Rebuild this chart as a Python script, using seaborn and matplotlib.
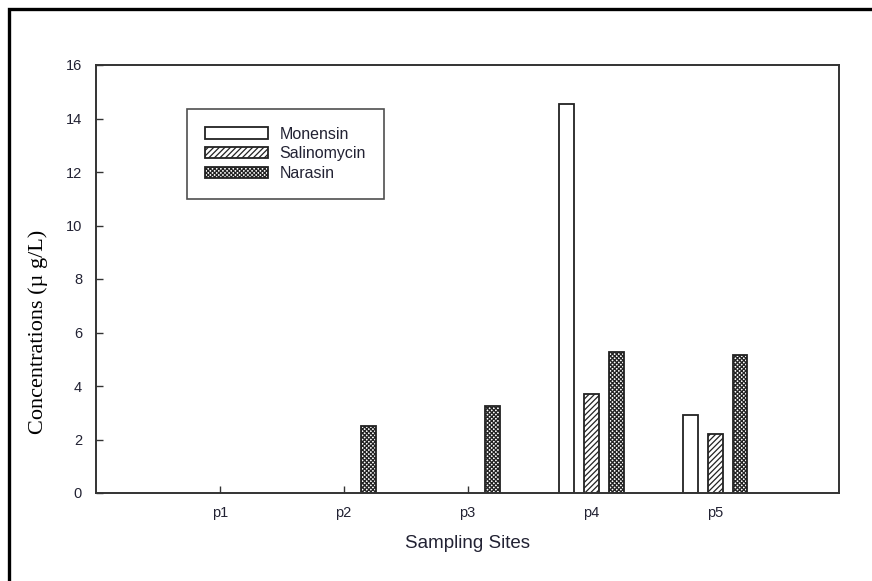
import numpy as np
import pandas as pd
import matplotlib
matplotlib.use("Agg")
import matplotlib.pyplot as plt
from matplotlib.patches import Rectangle, Patch
import seaborn as sns

# Concentrations (µg/L) per sampling site
sites = ["p1", "p2", "p3", "p4", "p5"]
compounds = ["Monensin", "Salinomycin", "Narasin"]
monensin = [0.0, 0.0, 0.0, 14.55, 2.92]
salinomycin = [0.0, 0.0, 0.0, 3.70, 2.22]
narasin = [0.0, 2.50, 3.26, 5.28, 5.16]
yticks = [0, 2, 4, 6, 8, 10, 12, 14, 16]

df = pd.DataFrame({
    "site": sites * 3,
    "compound": [c for c in compounds for _ in sites],
    "value": monensin + salinomycin + narasin,
})

sns.set_theme(style="white")
plt.rcParams["font.family"] = ["Liberation Sans", "DejaVu Sans"]
plt.rcParams["hatch.linewidth"] = 0.9

fig = plt.figure(figsize=(8.72, 5.81), dpi=100)
ax = fig.add_axes([96 / 872, 1 - 493 / 581, 743 / 872, 428 / 581])

sns.barplot(data=df, x="site", y="value", hue="compound", order=sites,
            hue_order=compounds, palette=["white"] * 3, width=0.6, gap=0.4,
            edgecolor="#222222", linewidth=1.3, legend=False, ax=ax,
            saturation=1)

hatches = ["", "//////", "xxxxxxxx"]
for cont, h in zip(ax.containers, hatches):
    for bar in cont:
        bar.set_hatch(h)
        if bar.get_height() == 0:
            bar.set_visible(False)

ax.set_xlim(-1, 5)
ax.set_ylim(0, 16)
ax.set_yticks(yticks)
ax.set_yticklabels([str(t) for t in yticks])
ax.tick_params(axis="both", direction="in", length=5, width=1,
               color="#333333", labelsize=10.5, labelcolor="#222233")
ax.tick_params(axis="y", pad=10, left=True)
ax.tick_params(axis="x", pad=9, bottom=True)

for sp in ax.spines.values():
    sp.set_visible(True)
    sp.set_color("#333333")
    sp.set_linewidth(1.4)

ax.set_xlabel("Sampling Sites", fontsize=13.5, color="#222233", labelpad=11)
ax.set_ylabel("Concentrations (\u00b5 g/L)", fontsize=16,
              family=["Liberation Serif", "DejaVu Serif"], color="black")
ax.yaxis.set_label_coords(-0.078, 0.376)
ax.yaxis.label.set_verticalalignment("center")

handles = [Patch(facecolor="white", edgecolor="#222222", linewidth=1.3,
                 hatch=h) for h in hatches]
leg = ax.legend(handles, compounds, loc="upper left",
                bbox_to_anchor=(0.1225, 0.897), borderaxespad=0,
                fontsize=11.5, frameon=True, fancybox=False, shadow=False,
                edgecolor="#222222", handlelength=4.0, handleheight=0.7,
                labelspacing=0.3, borderpad=1.1, handletextpad=0.7)
leg.get_frame().set_linewidth(1.2)
for t in leg.get_texts():
    t.set_color("#222233")

# outer frame around the figure
fig.patches.append(Rectangle((9 / 872, -0.1), 1.2, 1 - 9 / 581 + 0.1,
                             transform=fig.transFigure, fill=False,
                             lw=2.4, ec="black", zorder=10))

fig.savefig("out.png", dpi=100, facecolor="white")
